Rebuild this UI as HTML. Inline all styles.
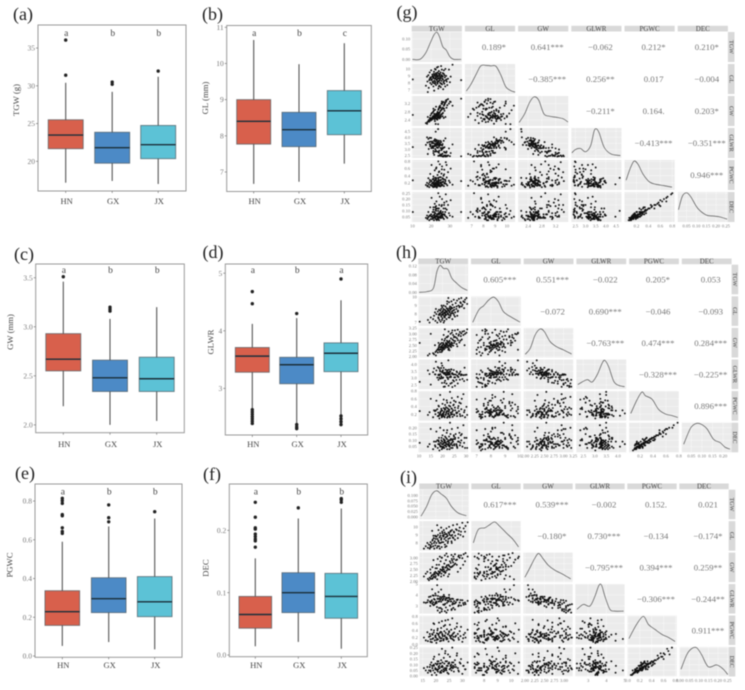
<!DOCTYPE html>
<html lang="en">
<head>
<meta charset="utf-8">
<title>Grain trait box plots and correlation matrices</title>
<style>
  html, body { margin: 0; padding: 0; background: #fff; }
  body { width: 745px; height: 690px; overflow: hidden; }
  svg { display: block; filter: blur(0.45px); font-family: "Liberation Serif", serif; }
</style>
</head>
<body>
<svg id="figure" width="745" height="690" viewBox="0 0 745 690"></svg>
<script>
/* ---------- Box plot data: [lower whisker, Q1, median, Q3, upper whisker] for HN, GX, JX ---------- */
const groups = ['HN', 'GX', 'JX'];
const groupColors = ['#D8604C', '#4C8AC6', '#5CC2D6'];

const tgwBoxes = [[17.17, 21.67, 23.48, 25.5, 30.4], [17.4, 19.75, 21.8, 23.85, 29.2], [17.0, 20.35, 22.2, 24.75, 31.2]];
const tgwOutliers = [[31.4, 36.05], [30.2, 30.5], [31.95]];
const tgwLetters = ['a', 'b', 'b'];
const tgwTicks = ['20', '25', '30', '35'];

const glBoxes = [[6.67, 7.77, 8.4, 9.0, 10.65], [6.73, 7.7, 8.17, 8.65, 9.98], [7.23, 8.03, 8.69, 9.25, 10.56]];
const glOutliers = [[], [], []];
const glLetters = ['a', 'b', 'c'];
const glTicks = ['7', '8', '9', '10', '11'];

const gwBoxes = [[2.19, 2.55, 2.67, 2.93, 3.46], [2.0, 2.34, 2.48, 2.66, 3.08], [2.04, 2.34, 2.47, 2.69, 3.2]];
const gwOutliers = [[3.51], [3.16, 3.18, 3.2], []];
const gwLetters = ['a', 'b', 'b'];
const gwTicks = ['2.0', '2.5', '3.0', '3.5'];

const glwrBoxes = [[2.65, 3.28, 3.56, 3.71, 4.12], [2.39, 3.08, 3.41, 3.54, 4.22], [2.54, 3.29, 3.61, 3.79, 4.53]];
const glwrOutliers = [[2.39, 2.43, 2.47, 2.51, 2.55, 2.59, 2.63, 4.47, 4.68], [2.3, 2.33, 2.37, 4.3], [2.37, 2.42, 2.47, 2.52, 4.9]];
const glwrLetters = ['a', 'b', 'a'];
const glwrTicks = ['3', '4', '5'];

const pgwcBoxes = [[0.052, 0.158, 0.229, 0.337, 0.59], [0.072, 0.224, 0.296, 0.404, 0.669], [0.034, 0.203, 0.28, 0.41, 0.71]];
const pgwcOutliers = [[0.633, 0.643, 0.662, 0.724, 0.73, 0.788, 0.802, 0.814], [0.693, 0.714, 0.78], [0.745]];
const pgwcLetters = ['a', 'b', 'b'];
const pgwcTicks = ['0.0', '0.2', '0.4', '0.6', '0.8'];

const decBoxes = [[0.014, 0.043, 0.065, 0.094, 0.155], [0.021, 0.068, 0.1, 0.132, 0.219], [0.01, 0.059, 0.094, 0.131, 0.235]];
const decOutliers = [[0.173, 0.183, 0.186, 0.19, 0.194, 0.202, 0.204, 0.221, 0.245], [0.236], [0.245, 0.249, 0.251]];
const decLetters = ['a', 'b', 'b'];
const decTicks = ['0.0', '0.1', '0.2'];

/* ---------- Correlation matrix data ---------- */
const traits = ['TGW', 'GL', 'GW', 'GLWR', 'PGWC', 'DEC'];

/* Observations: TGW, GL, GW, GLWR, PGWC, DEC */
const gObservations = [
[10.2,8.5,2.65,3.2,.27,.09],[36,8.4,3.44,2.44,.25,.09],[17.2,7.6,2.25,3.38,.14,.04],[17.8,8.9,2.22,4.0,.2,.06],
[18,8.2,2.3,3.57,.1,.03],[18.5,9.1,2.35,3.87,.33,.09],[18.7,7.3,2.4,3.04,.17,.05],[19,8.4,2.32,3.62,.08,.02],
[19.2,9.5,2.4,3.96,.22,.06],[19.5,8.0,2.45,3.27,.45,.13],[19.8,8.7,2.38,3.65,.13,.03],[20,9.8,2.48,3.95,.26,.07],
[20.2,7.8,2.5,3.12,.7,.21],[20.4,8.5,2.42,3.51,.18,.05],[20.6,9.2,2.52,3.65,.11,.03],[20.8,8.1,2.46,3.29,.3,.09],
[21,9.0,2.55,3.53,.21,.06],[21.2,7.5,2.6,2.88,.38,.11],[21.3,8.8,2.5,3.52,.15,.04],[21.5,9.6,2.58,3.72,.09,.02],
[21.7,8.3,2.52,3.29,.24,.07],[21.9,8.6,2.62,3.28,.55,.16],[22,10.0,2.6,3.85,.16,.05],[22.2,8.0,2.64,3.03,.28,.08],
[22.3,9.3,2.55,3.65,.2,.05],[22.5,8.8,2.66,3.31,.12,.03],[22.6,7.7,2.7,2.85,.34,.1],[22.8,9.1,2.6,3.5,.63,.18],
[23,8.4,2.65,3.17,.18,.06],[23.1,10.2,2.72,3.75,.25,.07],[23.2,8.9,2.58,3.45,.1,.03],[23.4,7.9,2.8,2.82,.42,.12],
[23.5,9.5,2.68,3.54,.2,.05],[23.6,8.6,2.75,3.13,.14,.04],[23.8,7.2,2.9,2.48,.8,.25],[23.9,9.0,2.62,3.44,.3,.08],
[24,8.2,2.95,2.78,.23,.07],[24.1,9.7,2.7,3.59,.16,.04],[24.3,8.7,3.0,2.9,.52,.15],[24.4,7.6,3.05,2.49,.13,.05],
[24.6,9.3,2.78,3.35,.72,.22],[24.8,8.0,3.1,2.58,.27,.08],[25,8.9,2.85,3.12,.19,.05],[25.1,7.4,3.0,2.47,.36,.1],
[25.3,10.4,2.88,3.61,.12,.04],[25.5,8.3,3.2,2.59,.46,.14],[25.6,9.1,2.92,3.12,.22,.07],[25.8,7.8,3.18,2.45,.66,.2],
[26,8.6,3.25,2.65,.15,.05],[26.2,9.4,3.0,3.13,.31,.09],[26.4,7.1,2.95,2.41,.24,.07],[26.6,8.1,3.28,2.47,.4,.12],
[26.8,9.8,3.1,3.16,.11,.03],[27,7.9,3.15,2.51,.57,.17],[27.3,8.8,3.2,2.75,.2,.06],[27.5,7.5,3.25,2.42,.29,.09],
[27.8,8.4,3.35,2.51,.78,.24],[28,9.0,3.3,2.73,.17,.05],[28.3,8.2,3.38,2.43,.35,.11],[28.6,7.7,3.12,2.47,.13,.04],
[29,8.6,3.42,2.51,.5,.15],[29.5,9.9,3.2,3.09,.26,.08],[30,8.1,3.3,2.45,.21,.06],[30.4,8.9,3.28,2.71,.6,.19],
[31.4,10.6,3.1,3.42,.15,.05],[18.2,6.7,2.55,2.63,.12,.04],[21.6,6.9,2.7,2.56,.27,.09],[23.7,10.3,2.2,4.68,.34,.1],
[22.4,9.9,2.21,4.47,.16,.05],
[20.5,8.9,2.75,3.24,.12,.05],[21.4,9.3,2.85,3.26,.19,.04],[22.1,8.2,2.9,2.83,.09,.04],[22.9,8.5,2.45,3.47,.23,.05],
[23.3,9.0,2.5,3.6,.16,.07],[24.2,8.3,2.55,3.25,.11,.02],[24.7,9.2,2.62,3.51,.2,.09],[25.2,8.8,2.6,3.38,.28,.06],
[25.9,9.0,2.7,3.33,.13,.06],[26.3,8.5,2.75,3.09,.22,.04],[27.1,9.1,2.85,3.19,.18,.07],[20.1,8.4,2.7,3.11,.24,.05],
[21.1,8.7,2.8,3.11,.08,.04],[22.7,9.4,2.48,3.79,.31,.12],[23.3,8.1,2.42,3.35,.15,.03],[24,9.3,2.5,3.72,.26,.05],
[24.9,8.6,2.52,3.41,.1,.04],[25.4,7.9,2.68,2.95,.17,.08],[26.1,8.9,2.58,3.45,.33,.07],[19.6,8.8,2.62,3.36,.14,.06],
[21.8,9.1,2.44,3.73,.12,.05],[22.4,8.6,2.5,3.44,.28,.11],[23,9.2,2.46,3.74,.07,.02],[23.7,8.7,2.55,3.41,.19,.03],
[24.5,8.4,2.48,3.39,.36,.08],[25,9.5,2.56,3.71,.21,.09],[22.1,9.0,2.6,3.46,.34,.13],[23.5,8.2,2.6,3.15,.25,.05],
[24.3,9.0,2.7,3.33,.15,.07],[20.9,8.2,2.58,3.18,.2,.04],[19.3,8.6,2.5,3.44,.28,.06],[26.9,8.3,2.95,2.81,.44,.15],
[28.2,8.5,3.0,2.83,.7,.18],[22.6,8.8,3.05,2.89,.6,.14],[24.1,7.5,2.75,2.73,.5,.12],[25.7,9.9,3.3,3.0,.58,.15],
[21.2,8.0,2.95,2.71,.32,.13],[27.6,10,2.55,3.92,.25,.12],[22,7.9,2.35,3.36,.17,.06],[26.7,9.3,2.5,3.72,.3,.07]];

const hObservations = [
[10.3,7.1,2.6,2.73,.28,.08],[13.8,7.3,2.05,3.56,.18,.05],[14.5,7.0,2.12,3.3,.25,.07],[15,7.6,3.0,2.53,.6,.19],
[16,7.4,2.15,3.44,.12,.03],[16.4,7.8,2.1,3.71,.3,.09],[17,7.2,2.2,3.27,.2,.05],[17.4,8.0,2.25,3.56,.55,.17],
[17.8,7.0,2.3,3.04,.33,.1],[18,8.3,2.18,3.81,.15,.04],[18.2,7.6,2.35,3.23,.24,.07],[18.5,8.5,2.28,3.73,.4,.12],
[18.7,7.3,2.42,3.02,.09,.02],[18.9,7.9,2.2,3.59,.21,.06],[19,8.1,2.32,3.49,.7,.2],[19.2,7.1,2.4,2.96,.27,.08],
[19.4,8.6,2.3,3.74,.18,.05],[19.5,7.7,2.45,3.14,.34,.1],[19.7,8.2,2.38,3.45,.12,.03],[19.9,8.8,2.25,3.91,.29,.09],
[20,7.5,2.5,3.0,.47,.14],[20.2,8.4,2.35,3.57,.22,.07],[20.3,7.9,2.6,3.04,.16,.05],[20.5,9.0,2.4,3.75,.36,.11],
[20.6,8.1,2.42,3.35,.25,.08],[20.8,7.2,2.7,2.67,.14,.04],[21,8.5,2.5,3.4,.31,.09],[21.1,7.8,2.78,2.81,.44,.13],
[21.3,8.9,2.46,3.62,.19,.06],[21.5,8.2,2.55,3.22,.38,.12],[21.7,7.4,2.85,2.6,.26,.07],[21.8,8.7,2.52,3.45,.56,.16],
[22,9.2,2.58,3.57,.11,.03],[22.2,8.0,2.65,3.02,.28,.09],[22.4,8.5,2.9,2.93,.2,.06],[22.6,7.6,3.1,2.45,.33,.1],
[22.8,9.4,2.6,3.62,.42,.13],[23,8.3,2.7,3.07,.17,.05],[23.2,8.9,2.55,3.49,.78,.24],[23.4,7.8,3.0,2.6,.5,.15],
[23.6,8.6,2.8,3.07,.23,.07],[23.8,9.5,2.62,3.63,.35,.11],[24,8.1,3.05,2.66,.62,.19],[24.3,9.1,2.75,3.31,.13,.04],
[24.5,8.4,2.95,2.85,.3,.09],[24.8,9.7,2.7,3.59,.45,.14],[25,8.8,2.88,3.06,.19,.06],[25.3,7.7,3.15,2.44,.37,.11],
[25.6,9.3,2.85,3.26,.52,.15],[25.9,8.6,3.0,2.87,.24,.07],[26.2,9.6,2.8,3.43,.15,.05],[26.5,8.3,3.18,2.61,.65,.2],
[26.8,9.0,2.92,3.08,.41,.12],[27,9.8,2.98,3.29,.28,.09],[27.4,8.9,3.08,2.89,.2,.06],[27.8,9.3,2.9,3.21,.48,.14],
[28,9.9,3.02,3.28,.33,.1],[28.5,9.1,3.1,2.94,.16,.05],[28.9,9.5,2.95,3.22,.72,.22],[29.2,8.7,3.12,2.79,.25,.08],
[29.6,9.7,3.0,3.23,.12,.04],[30.2,9.9,3.05,3.25,.39,.12],[30.5,9.2,3.2,2.88,.18,.04],[21,7.6,3.2,2.38,.34,.1],
[24.2,7.4,3.15,2.35,.2,.06],[20.5,7.0,2.95,2.37,.58,.18],[22.5,9.9,2.3,4.3,.22,.07],[19.6,9.0,2.2,4.09,.16,.05],
[17.2,8.6,2.05,4.2,.3,.09],
[18.6,8.0,2.5,3.2,.18,.07],[19.1,8.4,2.55,3.29,.24,.05],[19.6,7.9,2.6,3.04,.3,.12],[20.1,8.3,2.42,3.43,.15,.07],
[20.4,8.6,2.55,3.37,.2,.04],[20.7,7.7,2.32,3.32,.26,.1],[20.9,8.2,2.48,3.31,.12,.06],[21.2,8.0,2.38,3.36,.33,.08],
[21.4,8.4,2.6,3.23,.18,.08],[21.6,7.9,2.44,3.24,.23,.05],[21.9,8.3,2.7,3.07,.28,.11],[22.1,8.6,2.4,3.58,.36,.09],
[22.3,8.1,2.5,3.24,.14,.07],[22.5,8.4,2.45,3.43,.21,.09],[22.7,7.9,2.36,3.35,.27,.06],[22.9,8.7,2.66,3.27,.31,.08],
[23.1,8.2,2.5,3.28,.12,.06],[23.3,8.5,2.45,3.47,.4,.1],[23.5,8.0,2.55,3.14,.24,.11],[23.7,8.8,2.42,3.64,.19,.04],
[24,8.3,2.5,3.32,.34,.08],[24.2,8.7,2.58,3.37,.26,.1],[24.6,8.1,2.48,3.27,.43,.11],[25,8.5,2.6,3.27,.17,.07],
[25.4,8.2,2.68,3.06,.3,.12],[26,8.9,2.55,3.49,.22,.06],[26.6,8.4,2.72,3.09,.36,.09],[27.2,8.8,2.62,3.36,.5,.16],
[27.6,9.4,2.7,3.48,.15,.08],[18.3,7.5,2.6,2.88,.42,.1],[19.8,7.3,2.75,2.65,.13,.07],[28.2,8.9,2.75,3.24,.6,.15],
[24.9,7.9,2.85,2.77,.55,.13],[16.8,8.2,2.5,3.28,.28,.06],[29.4,9.4,2.5,3.76,.3,.12],[22,9.5,2.85,3.33,.5,.18],
[26.3,7.8,2.45,3.18,.24,.04],[18.4,7.9,2.42,3.26,.15,.09],[20,8.0,2.28,3.51,.2,.04],[23,7.6,2.28,3.33,.14,.03]];

const iObservations = [
[17,7.4,2.1,3.52,.1,.03],[17.4,7.8,2.04,3.82,.22,.05],[17.7,7.3,2.15,3.4,.3,.08],[18,8.1,2.1,3.86,.15,.04],
[18.3,7.5,2.2,3.41,.42,.12],[18.5,7.9,2.25,3.51,.07,.01],[18.8,8.4,2.12,3.96,.28,.09],[19,7.6,2.28,3.33,.18,.05],
[19.2,8.6,2.18,3.94,.34,.1],[19.4,7.3,2.35,3.11,.58,.17],[19.6,8.2,2.3,3.57,.12,.03],[19.8,7.7,2.4,3.21,.25,.07],
[20,8.8,2.22,3.96,.2,.06],[20.2,8.0,2.35,3.4,.05,.01],[20.4,7.4,2.55,2.9,.32,.1],[20.6,8.5,2.32,3.66,.4,.13],
[20.8,9.0,2.3,3.91,.15,.04],[21,8.2,2.42,3.39,.27,.08],[21.2,7.6,2.7,2.81,.62,.19],[21.4,8.7,2.38,3.66,.22,.07],
[21.6,9.2,2.4,3.83,.1,.03],[21.8,8.0,2.85,2.81,.36,.11],[22,8.4,2.48,3.39,.47,.14],[22.2,7.5,3.0,2.5,.18,.05],
[22.4,9.4,2.45,3.84,.3,.09],[22.6,8.9,2.52,3.53,.24,.08],[22.8,8.1,2.6,3.12,.13,.04],[23,9.6,2.5,3.84,.52,.16],
[23.2,8.5,2.75,3.09,.38,.11],[23.4,7.8,3.1,2.52,.26,.07],[23.6,9.1,2.58,3.53,.68,.22],[23.8,8.3,2.9,2.86,.2,.06],
[24,9.8,2.62,3.74,.15,.05],[24.2,8.8,2.68,3.28,.43,.13],[24.5,8.0,3.05,2.62,.29,.09],[24.8,9.3,2.7,3.44,.09,.02],
[25,10.0,2.65,3.77,.35,.11],[25.3,8.6,2.85,3.02,.56,.17],[25.6,9.5,2.78,3.42,.23,.07],[25.9,8.2,3.12,2.63,.17,.05],
[26.2,9.0,2.88,3.13,.74,.25],[26.5,10.2,2.8,3.64,.31,.09],[26.8,9.4,2.95,3.19,.12,.04],[27.2,8.4,3.15,2.67,.45,.14],
[27.6,9.7,2.9,3.34,.25,.08],[28,10.3,2.92,3.53,.6,.2],[28.5,9.1,3.05,2.98,.19,.05],[29,9.9,3.0,3.3,.38,.12],
[29.5,9.4,3.1,3.03,.5,.15],[30,10.5,2.98,3.52,.08,.02],[30.5,9.8,3.15,3.11,.28,.09],[31.2,10.1,3.2,3.16,.2,.06],
[32,10.56,3.05,3.46,.42,.12],[20.5,10.2,2.08,4.9,.16,.05],[18.6,9.5,2.1,4.52,.3,.09],[22,9.9,2.2,4.5,.11,.03],
[21.5,7.3,3.05,2.39,.33,.11],[24,7.6,3.18,2.39,.2,.07],[19.8,8.9,2.15,4.14,.22,.06],[23,9.0,2.25,4.0,.16,.04],
[25,9.2,2.3,4.0,.38,.12],[26,8.0,2.95,2.71,.26,.08],
[15.5,7.3,2.2,3.32,.2,.07],[16.2,7.6,2.32,3.28,.12,.05],[16.8,8.0,2.4,3.33,.35,.08],[17.9,7.5,2.5,3.0,.24,.1],
[18.7,8.3,2.6,3.19,.16,.07],[19.3,8.0,2.2,3.64,.4,.09],[19.9,8.5,2.55,3.33,.26,.11],[20.3,8.8,2.7,3.26,.13,.06],
[20.9,8.3,2.28,3.64,.3,.06],[21.3,8.0,2.34,3.42,.22,.09],[21.7,8.9,2.5,3.56,.18,.04],[22.1,8.6,2.32,3.71,.35,.08],
[22.5,9.2,2.6,3.54,.28,.12],[22.9,8.8,2.4,3.67,.12,.06],[23.3,9.3,2.42,3.84,.24,.05],[23.7,8.7,2.38,3.66,.33,.13],
[24.1,9.1,2.46,3.7,.2,.09],[24.4,8.9,2.55,3.49,.16,.03],[24.7,8.5,2.5,3.4,.3,.11],[25.2,9.0,2.5,3.6,.25,.06],
[25.5,9.4,2.6,3.62,.19,.09],[25.8,8.9,2.6,3.42,.42,.1],[26.1,9.6,2.62,3.66,.27,.12],[26.4,8.7,2.65,3.28,.15,.07],
[26.9,9.3,2.7,3.44,.34,.08],[27.3,8.9,2.75,3.24,.22,.1],[27.9,9.6,2.7,3.56,.5,.18],[28.3,8.6,2.4,3.58,.3,.07],
[29.3,9.0,2.55,3.53,.24,.11],[30.3,8.8,2.7,3.26,.18,.09],[31,9.4,2.85,3.3,.33,.06],[19.1,8.9,2.9,3.07,.6,.15],
[20.7,7.6,2.95,2.58,.45,.11],[22.3,8.1,3.0,2.7,.66,.24],[23.5,7.5,2.35,3.19,.55,.2],[24.6,8.2,2.2,3.73,.7,.19],
[26.6,8.6,3.05,2.82,.22,.12],[28.7,9.5,3.1,3.06,.14,.04],[21,9.6,2.25,4.27,.28,.13],[18,7.7,2.35,3.28,.08,.05]];

/* Axis ranges per trait */
const gRanges = [[9.6, 36.4], [6.42, 10.7], [2.11, 3.57], [2.3, 4.77], [0, 0.84], [0.005, 0.26]];
const hRanges = [[9.7, 30.9], [6.6, 10.1], [1.96, 3.26], [2.2, 4.36], [0.03, 0.8], [0.005, 0.24]];
const iRanges = [[13.75, 32.4], [7.05, 10.7], [1.96, 3.22], [2.3, 5.0], [-0.01, 0.82], [-0.003, 0.256]];

const gDensityRange = [-0.013, 0.134];
const hDensityRange = [-0.009, 0.126];
const iDensityRange = [-0.011, 0.126];

/* Tick labels per trait */
const gTickLabels = [['10','20','30'], ['7','8','9','10'], ['2.4','2.8','3.2'], ['2.5','3.0','3.5','4.0','4.5'], ['0.2','0.4','0.6','0.8'], ['0.05','0.10','0.15','0.20','0.25']];
const hTickLabels = [['10','15','20','25','30'], ['7','8','9','10'], ['2.00','2.25','2.50','2.75','3.00','3.25'], ['2.5','3.0','3.5','4.0'], ['0.2','0.4','0.6','0.8'], ['0.05','0.10','0.15','0.20']];
const iTickLabels = [['15','20','25','30'], ['8','9','10'], ['2.00','2.25','2.50','2.75','3.00'], ['3','4','5'], ['0.0','0.2','0.4','0.6','0.8'], ['0.00','0.05','0.10','0.15','0.20','0.25']];
const gDensityTicks = ['0.00', '0.05', '0.10'];
const hDensityTicks = ['0.00', '0.04', '0.08', '0.12'];
const iDensityTicks = ['0.000', '0.025', '0.050', '0.075', '0.100'];

/* Diagonal density curves: [trait value, density] (TGW in real units, others relative to peak) */
const gDensities = [
[[10,0],[14,0],[17,.03],[19.5,.08],[21.5,.12],[23,.133],[24.4,.112],[26.2,.062],[28,.046],[30,.013],[32,0],[36,0]],
[[6.54,.04],[6.9,.26],[7.34,.62],[7.77,.96],[8.2,.98],[8.63,.96],[9.06,.95],[9.49,.62],[9.9,.2],[10.34,.05],[10.7,0]],
[[2.14,.06],[2.3,.375],[2.45,.81],[2.58,1],[2.71,.875],[2.86,.375],[3.02,.29],[3.22,.25],[3.43,.19],[3.56,.075]],
[[2.33,.12],[2.5,.24],[2.75,.28],[3.0,.16],[3.25,.38],[3.42,.91],[3.53,1],[3.67,.85],[3.92,.32],[4.25,.08],[4.72,.02]],
[[.027,.29],[.092,.7],[.16,.99],[.227,.87],[.308,.52],[.416,.23],[.524,.14],[.659,.09],[.795,.035]],
[[.009,.38],[.029,.88],[.051,1],[.072,.85],[.106,.44],[.149,.19],[.183,.15],[.217,.12],[.256,.035]]];

const hDensities = [
[[10,0],[13.3,.003],[16.1,.018],[17.6,.094],[19,.123],[20.4,.109],[22.3,.105],[24,.064],[26.1,.041],[28.3,.021],[30.6,.009]],
[[6.72,.06],[7.14,.52],[7.49,.68],[7.84,.89],[8.19,1],[8.53,.83],[8.88,.46],[9.35,.28],[10.05,.07]],
[[2.0,.05],[2.13,.27],[2.26,.77],[2.39,.99],[2.5,.89],[2.65,.52],[2.82,.33],[3.0,.21],[3.21,.06]],
[[2.26,.1],[2.66,.28],[2.88,.19],[3.1,.46],[3.31,.88],[3.43,1],[3.6,.76],[3.82,.22],[4.03,.07],[4.29,.02]],
[[.056,.2],[.153,.71],[.23,1],[.281,.86],[.384,.73],[.486,.35],[.589,.18],[.692,.12],[.784,.05]],
[[.014,.23],[.045,.81],[.069,.99],[.092,.99],[.123,.81],[.155,.41],[.186,.29],[.209,.12],[.232,.05]]];

const iDensities = [
[[14.4,.003],[16.5,.048],[18.4,.102],[20.25,.121],[22.1,.105],[24,.086],[25.9,.048],[28.4,.018],[31.5,.005]],
[[7.2,.22],[7.57,.72],[8.05,.78],[8.42,.9],[8.78,1],[9.15,.84],[9.64,.59],[10.13,.35],[10.54,.07]],
[[2.0,.11],[2.12,.44],[2.25,.81],[2.35,1],[2.46,.81],[2.59,.57],[2.76,.38],[2.97,.22],[3.17,.05]],
[[2.39,.09],[2.74,.27],[3.1,.21],[3.37,.57],[3.59,.98],[3.74,.98],[3.92,.57],[4.19,.09],[4.46,.02],[4.94,.02]],
[[.018,.17],[.147,.7],[.26,1],[.344,.7],[.456,.51],[.569,.33],[.681,.21],[.793,.06]],
[[.006,.2],[.036,.74],[.062,.97],[.088,1],[.114,.74],[.149,.29],[.193,.36],[.228,.2],[.251,0]]];

/* Upper-triangle correlation labels by row */
const gCorrelations = [['0.189*','0.641***','\u22120.062','0.212*','0.210*'], ['\u22120.385***','0.256**','0.017','\u22120.004'], ['\u22120.211*','0.164.','0.203*'], ['\u22120.413***','\u22120.351***'], ['0.946***']];
const hCorrelations = [['0.605***','0.551***','\u22120.022','0.205*','0.053'], ['\u22120.072','0.690***','\u22120.046','\u22120.093'], ['\u22120.763***','0.474***','0.284***'], ['\u22120.328***','\u22120.225**'], ['0.896***']];
const iCorrelations = [['0.617***','0.539***','\u22120.002','0.152.','0.021'], ['\u22120.180*','0.730***','\u22120.134','\u22120.174*'], ['\u22120.795***','0.394***','0.259**'], ['\u22120.306***','\u22120.244**'], ['0.911***']];

/* ---------- Drawing helpers ---------- */
const NS = 'http://www.w3.org/2000/svg';
const figure = document.getElementById('figure');

function shape(parent, tag, attrs) {
  const node = document.createElementNS(NS, tag);
  for (const key in attrs) node.setAttribute(key, attrs[key]);
  parent.appendChild(node);
  return node;
}
function label(parent, x, y, str, size, fill, anchor, rotate) {
  const attrs = { x: x, y: y, 'font-size': size, fill: fill, 'text-anchor': anchor || 'middle' };
  if (rotate) attrs.transform = 'rotate(' + rotate + ' ' + x + ' ' + y + ')';
  const node = shape(parent, 'text', attrs);
  node.textContent = str;
  return node;
}
function scale(domain, rangeStart, rangeEnd) {
  return function (v) {
    return rangeStart + (v - domain[0]) / (domain[1] - domain[0]) * (rangeEnd - rangeStart);
  };
}
function smoothPath(points) {
  let d = 'M' + points[0][0].toFixed(2) + ' ' + points[0][1].toFixed(2);
  for (let i = 0; i < points.length - 1; i++) {
    const p0 = points[Math.max(i - 1, 0)], p1 = points[i], p2 = points[i + 1], p3 = points[Math.min(i + 2, points.length - 1)];
    const c1x = p1[0] + (p2[0] - p0[0]) / 6, c1y = p1[1] + (p2[1] - p0[1]) / 6;
    const c2x = p2[0] - (p3[0] - p1[0]) / 6, c2y = p2[1] - (p3[1] - p1[1]) / 6;
    d += 'C' + c1x.toFixed(2) + ' ' + c1y.toFixed(2) + ' ' + c2x.toFixed(2) + ' ' + c2y.toFixed(2) + ' ' + p2[0].toFixed(2) + ' ' + p2[1].toFixed(2);
  }
  return d;
}

/* ---------- Box plot panel ---------- */
function drawBoxPanel(o) {
  const g = shape(figure, 'g', {});
  
  

  const y = scale(o.domain, o.bottom, o.top);

  const tag = label(g, o.tagX, o.tagY, o.tag, 18, '#222', 'start');
  
  

  const frame = shape(g, 'rect', { x: o.left, y: o.top, width: o.right - o.left, height: o.bottom - o.top, fill: '#fff', stroke: '#9a9a9a', 'stroke-width': 1 });
  
  

  o.ticks.forEach(function (t) {
    const py = y(Number(t));
    const mark = shape(g, 'line', { x1: o.left - 2, x2: o.left, y1: py, y2: py, stroke: '#777', 'stroke-width': 0.7 });
    
    
    const text = label(g, o.left - 3, py + 2.6, t, 7.5, '#777', 'end');
    
    
  });

  const title = label(g, o.titleX, o.titleY, o.title, 8.7, '#444', 'middle', -90);
  
  

  groups.forEach(function (name, i) {
    const cx = o.centers[i];
    const b = o.boxes[i];

    const axisTick = shape(g, 'line', { x1: cx, x2: cx, y1: o.bottom, y2: o.bottom + 2, stroke: '#777', 'stroke-width': 0.7 });
    
    

    const whisker = shape(g, 'line', { x1: cx, x2: cx, y1: y(b[0]), y2: y(b[4]), stroke: '#555', 'stroke-width': 1.1 });
    
    

    const box = shape(g, 'rect', { x: cx - o.boxWidth / 2, y: y(b[3]), width: o.boxWidth, height: y(b[1]) - y(b[3]), fill: groupColors[i], stroke: '#4d5a60', 'stroke-opacity': 0.75, 'stroke-width': 0.9 });
    
    

    const median = shape(g, 'line', { x1: cx - o.boxWidth / 2, x2: cx + o.boxWidth / 2, y1: y(b[2]), y2: y(b[2]), stroke: '#1b2f3a', 'stroke-width': 1.4 });
    
    

    o.outliers[i].forEach(function (v) {
      const dot = shape(g, 'circle', { cx: cx, cy: y(v), r: 1.7, fill: '#222' });
      
      
    });

    const letter = label(g, cx + 0.5, o.letterY, o.letters[i], 9.5, '#444');
    
    

    const cat = label(g, cx + 1, o.catY, name, 8.5, '#444');
    
    
  });
}

drawBoxPanel({ key: 'tgw', tag: '(a)', tagX: 13, tagY: 20, left: 38, right: 186, top: 25, bottom: 191, domain: [16.07, 38.05], centers: [65.7, 112.2, 158.2], boxWidth: 35, boxes: tgwBoxes, outliers: tgwOutliers, letters: tgwLetters, ticks: tgwTicks, title: 'TGW (g)', titleX: 19, titleY: 100, letterY: 36, catY: 204 });
drawBoxPanel({ key: 'gl', tag: '(b)', tagX: 202, tagY: 20, left: 226.7, right: 371.3, top: 25.5, bottom: 191.5, domain: [6.46, 11.05], centers: [253.7, 299, 344.3], boxWidth: 34, boxes: glBoxes, outliers: glOutliers, letters: glLetters, ticks: glTicks, title: 'GL (mm)', titleX: 208, titleY: 98, letterY: 36, catY: 204 });
drawBoxPanel({ key: 'gw', tag: '(c)', tagX: 14, tagY: 260, left: 35.7, right: 184.3, top: 264, bottom: 432.7, domain: [1.92, 3.64], centers: [63.3, 110, 156.7], boxWidth: 35, boxes: gwBoxes, outliers: gwOutliers, letters: gwLetters, ticks: gwTicks, title: 'GW (mm)', titleX: 13, titleY: 332, letterY: 273, catY: 447 });
drawBoxPanel({ key: 'glwr', tag: '(d)', tagX: 202.5, tagY: 258, left: 225.3, right: 367.7, top: 264, bottom: 435, domain: [2.19, 5.16], centers: [252.3, 296.7, 341], boxWidth: 34, boxes: glwrBoxes, outliers: glwrOutliers, letters: glwrLetters, ticks: glwrTicks, title: 'GLWR', titleX: 213.5, titleY: 342, letterY: 273, catY: 447 });
drawBoxPanel({ key: 'pgwc', tag: '(e)', tagX: 15, tagY: 479, left: 35, right: 182, top: 484, bottom: 657.3, domain: [-0.0067, 0.888], centers: [62.3, 108.7, 154.7], boxWidth: 34.7, boxes: pgwcBoxes, outliers: pgwcOutliers, letters: pgwcLetters, ticks: pgwcTicks, title: 'PGWC', titleX: 12.5, titleY: 565, letterY: 494.7, catY: 668 });
drawBoxPanel({ key: 'dec', tag: '(f)', tagX: 203, tagY: 480, left: 229.3, right: 367.3, top: 484, bottom: 656.7, domain: [-0.0027, 0.2743], centers: [255.3, 298.3, 341.3], boxWidth: 32.7, boxes: decBoxes, outliers: decOutliers, letters: decLetters, ticks: decTicks, title: 'DEC', titleX: 208.5, titleY: 568, letterY: 494.7, catY: 668 });

/* ---------- Correlation matrix ---------- */
function drawMatrix(o) {
  const g = shape(figure, 'g', {});
  
  

  const tag = label(g, o.tagX, o.tagY, o.tag, 18, '#222', 'start');
  
  

  const colX = function (c) { return o.x0 + c * o.colPitch; };
  const rowY = function (r) { return o.y0 + r * o.rowPitch; };
  const xAxis = function (c) { return scale(o.ranges[c], colX(c), colX(c) + o.w); };
  const yAxis = function (r) { return scale(o.ranges[r], rowY(r) + o.h, rowY(r)); };

  traits.forEach(function (name, c) {
    const strip = shape(g, 'rect', { x: colX(c), y: o.y0 - 6.2, width: o.w, height: 5.7, fill: '#d9d9d9' });
    
    
    const stripText = label(g, colX(c) + o.w / 2, o.y0 - 1.2, name, 7, '#444');
    
    

    const side = shape(g, 'rect', { x: colX(5) + o.w, y: rowY(c), width: 6.6, height: o.h, fill: '#d9d9d9' });
    
    
    const sx = colX(5) + o.w + 1.5, sy = rowY(c) + o.h / 2;
    const sideText = label(g, sx, sy, name, 6, '#444', 'middle', 90);
    
    

    const xa = xAxis(c);
    o.ticks[c].forEach(function (t) {
      const tx = xa(Number(t));
      const text = label(g, tx, rowY(5) + o.h + 5.4, t, 4.6, '#777');
      
      
    });
  });

  for (let r = 0; r < 6; r++) {
    /* y tick labels for the left column */
    const rowTicks = r === 0 ? o.densityTicks : o.ticks[r];
    const ya = r === 0 ? scale(o.densityRange, rowY(0) + o.h, rowY(0)) : yAxis(r);
    rowTicks.forEach(function (t) {
      const text = label(g, o.x0 - 1.5, ya(Number(t)) + 1.6, t, 4.6, '#777', 'end');
      
      
    });

    for (let c = 0; c < 6; c++) {
      const px = colX(c), py = rowY(r);
      if (c > r) {
        const corr = label(g, px + o.w / 2 + 4, py + o.h / 2 + 3.2, o.correlations[r][c - r - 1], 8.8, '#777');
        
        
        continue;
      }
      const cell = shape(g, 'rect', { x: px, y: py, width: o.w, height: o.h, fill: '#ebebeb' });
      
      

      const xa = xAxis(c);
      o.ticks[c].forEach(function (t) {
        const tx = xa(Number(t));
        if (tx < px || tx > px + o.w) return;
        const grid = shape(g, 'line', { x1: tx, x2: tx, y1: py, y2: py + o.h, stroke: '#fff', 'stroke-width': 0.35 });
        
        
      });
      rowTicks.forEach(function (t) {
        const ty = ya(Number(t));
        if (ty < py || ty > py + o.h) return;
        const grid = shape(g, 'line', { x1: px, x2: px + o.w, y1: ty, y2: ty, stroke: '#fff', 'stroke-width': 0.35 });
        
        
      });

      if (c === r) {
        const dy = c === 0 ? ya : scale([-0.07, 1.03], py + o.h, py);
        const pts = o.densities[c].map(function (p) { return [xa(p[0]), dy(p[1])]; });
        const curve = shape(g, 'path', { d: smoothPath(pts), fill: 'none', stroke: '#555', 'stroke-width': 0.7 });
        
        
      } else {
        o.observations.forEach(function (row) {
          const dot = shape(g, 'circle', { cx: xa(row[c]), cy: ya(row[r]), r: 0.95, fill: '#111' });
          
          
        });
      }
    }
  }
}

drawMatrix({ key: 'hn', tag: '(g)', tagX: 396.5, tagY: 18, x0: 411.7, colPitch: 53.2, w: 50.2, y0: 32, rowPitch: 32, h: 30, ranges: gRanges, densityRange: gDensityRange, ticks: gTickLabels, densityTicks: gDensityTicks, densities: gDensities, observations: gObservations, correlations: gCorrelations });
drawMatrix({ key: 'gx', tag: '(h)', tagX: 396, tagY: 258, x0: 418.3, colPitch: 52.7, w: 49.8, y0: 264.7, rowPitch: 31.6, h: 29.6, ranges: hRanges, densityRange: hDensityRange, ticks: hTickLabels, densityTicks: hDensityTicks, densities: hDensities, observations: hObservations, correlations: hCorrelations });
drawMatrix({ key: 'jx', tag: '(i)', tagX: 400, tagY: 483, x0: 419.3, colPitch: 52, w: 49.4, y0: 489.7, rowPitch: 31.45, h: 29.5, ranges: iRanges, densityRange: iDensityRange, ticks: iTickLabels, densityTicks: iDensityTicks, densities: iDensities, observations: iObservations, correlations: iCorrelations });
</script>
</body>
</html>
